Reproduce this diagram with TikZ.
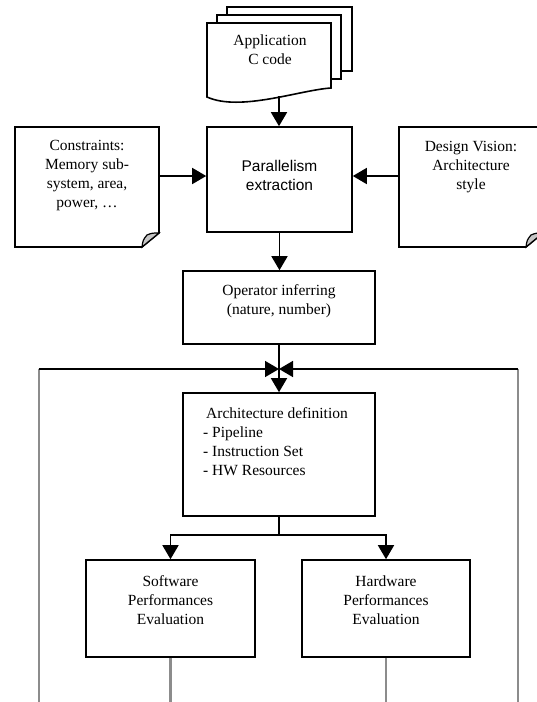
\documentclass[tikz,border=0pt]{standalone}
\usepackage{fontspec}
\setmainfont{Liberation Serif}
\setsansfont{Liberation Sans}
\usetikzlibrary{arrows.meta}
\newcommand{\boxfont}{\fontsize{15.5}{19}\selectfont}
\tikzset{
  box/.style={draw, line width=1.6pt, inner sep=0pt},
  txt/.style={align=center, inner sep=0pt, font=\boxfont},
  arr/.style={line width=1.6pt, -{Triangle[length=14pt,width=16pt]}},
  back/.style={line width=2.2pt, draw=gray!90},
}
\begin{document}
\begin{tikzpicture}[x=1pt, y=-1pt, line join=miter]
\useasboundingbox (0,0) rectangle (537,702);
% application code: stack of documents
\draw[line width=1.6pt, fill=white] (227,7) rectangle (352,71);
\draw[line width=1.6pt, fill=white] (217,15) rectangle (341,79);
\draw[line width=1.6pt, fill=white] (207,23) -- (331,23) -- (331,88)
  .. controls (300,90) and (240,112) .. (207,97) -- cycle;
\node[txt] (app) at (270,50) {Application\\C code};
\coordinate (appb) at (279,96);
% notes with folded corner
\foreach \nx in {15,399}{
  \draw[line width=1.6pt, fill=white] (\nx,127) -- (\nx+144,127) -- (\nx+144,233)
    -- (\nx+127,247) -- (\nx,247) -- cycle;
  \filldraw[line width=1.2pt, fill=gray!45] (\nx+127,247) .. controls (\nx+128,240) .. (\nx+132,235)
    .. controls (\nx+137,233) .. (\nx+144,233) -- cycle;
}
\node[txt] (cons) at (87,176) {Constraints:\\Memory sub-\\system, area,\\power, \dots};
\node[txt] (dv) at (471,167) {Design Vision:\\Architecture\\style};
\coordinate (consE) at (159,176);
\coordinate (dvW) at (399,176);
% boxes
\node[box, minimum width=145, minimum height=105] (par) at (279.5,179.5) {};
\node[txt, font=\sffamily\boxfont] (part) at (279.5,175) {Parallelism\\extraction};
\node[box, minimum width=192, minimum height=73] (op) at (279,307.5) {};
\node[txt] (opt) at (279,301.5) {Operator inferring\\(nature, number)};
\node[box, minimum width=192, minimum height=123] (arch) at (279,454.5) {};
\node[txt, align=left, anchor=west] (archt) at (203,442)
  {\hspace*{3pt}Architecture definition\\- Pipeline\\- Instruction Set\\- HW Resources};
\node[box, minimum width=169, minimum height=97] (sw) at (170.5,608.5) {};
\node[txt] (swt) at (170.5,600) {Software\\Performances\\Evaluation};
\node[box, minimum width=168, minimum height=97] (hw) at (386,608.5) {};
\node[txt] (hwt) at (386,600) {Hardware\\Performances\\Evaluation};
% feedback loop
\coordinate (fbL) at (38.6,369);
\coordinate (fbR) at (517.7,369);
\coordinate (fbLb) at (38.6,712);
\coordinate (fbRb) at (517.7,712);
\draw[back] (fbL) -- (fbLb);
\draw[back] (fbR) -- (fbRb);
\draw[back] (sw.south) -- (sw.south |- fbLb);
\draw[back] (hw.south) -- (hw.south |- fbLb);
% connectors
\draw[arr] (appb) -- (appb |- par.north);
\draw[arr] (consE) -- (consE -| par.west);
\draw[arr] (dvW) -- (dvW -| par.east);
\draw[arr] (par.south) -- (par.south |- op.north);
\draw[arr] (op.south) -- (arch.north);
\draw[arr] (fbL) -- (fbL -| op.south);
\draw[arr] (fbR) -- (fbR -| op.south);
\coordinate (split) at (279,535);
\draw[line width=1.6pt] (arch.south) -- (split);
\draw[arr] (split) -| (sw.north);
\draw[arr] (split) -| (hw.north);
\end{tikzpicture}
\end{document}
